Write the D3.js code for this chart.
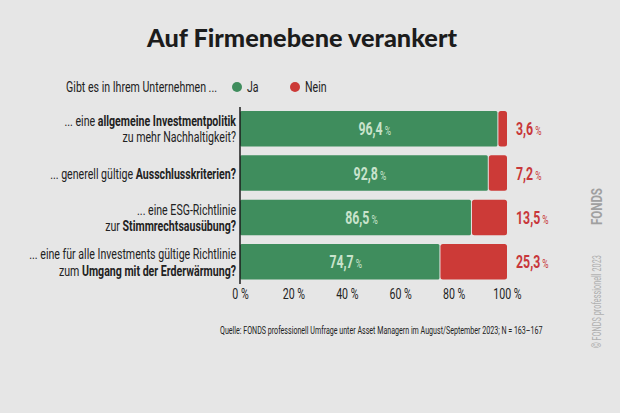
<!DOCTYPE html>
<html><head><meta charset="utf-8">
<script src="https://cdn.jsdelivr.net/npm/d3@7"></script>
<style>
html,body{margin:0;padding:0;background:#e6e6e6;}
svg{display:block;}
</style></head>
<body>
<svg id="chart" width="620" height="413"></svg>
<script>
const title = "Auf Firmenebene verankert";
const legendIntro = "Gibt es in Ihrem Unternehmen ...";
const seriesNames = ["Ja", "Nein"];
const questionLines = [
  ["... eine **allgemeine Investmentpolitik**", "zu mehr Nachhaltigkeit?"],
  ["... generell gültige **Ausschlusskriterien?**"],
  ["... eine ESG-Richtlinie", "zur **Stimmrechtsausübung?**"],
  ["... eine für alle Investments gültige Richtlinie", "zum **Umgang mit der Erderwärmung?**"]
];
const jaValues = [96.4, 92.8, 86.5, 74.7];
const neinValues = [3.6, 7.2, 13.5, 25.3];
const tickValues = [0, 20, 40, 60, 80, 100];
const sourceText = "Quelle: FONDS professionell Umfrage unter Asset Managern im August/September 2023; N = 163–167";
const copyrightText = "© FONDS professionell 2023";
const logoText = "FONDS";

const GREEN = "#3f8d5d", RED = "#cc3a37", DARK = "#222222", LIGHT = "#c9e3cc", RED_TXT = "#c8373a";
const NARROW = "Roboto, 'Liberation Sans', sans-serif";
const FS = 15.5;

const svg = d3.select("#chart");
svg.append("rect").attr("width", 620).attr("height", 413).attr("fill", "#e6e6e6");

// calibrate a horizontal condensing factor so the font imitates the condensed original
const calib = svg.append("text").attr("font-family", NARROW).attr("font-size", FS)
  .text("... eine für alle Investments gültige Richtlinie");
const K = 207 / calib.node().getComputedTextLength();
calib.remove();

const fmt = v => d3.format(".1f")(v).replace(".", ",");
const x = d3.scaleLinear().domain([0, 100]).range([240, 507]);
const y = d3.scaleBand().domain(d3.range(questionLines.length)).range([102, 288.5]).paddingInner(0.2).paddingOuter(0.2);

function condText(parent, tx, ty, anchor, k) {
  return parent.append("text")
    .attr("transform", `translate(${tx},${ty}) scale(${k},1)`)
    .attr("text-anchor", anchor)
    .attr("font-family", NARROW);
}
function addRich(textSel, str, size, color) {
  str.split("**").forEach((seg, i) => {
    if (!seg) return;
    textSel.append("tspan").text(seg)
      .attr("font-weight", i % 2 ? "bold" : "normal")
      .attr("font-size", size).attr("fill", color);
  });
}

// Title
svg.append("text").attr("x", 302).attr("y", 47).attr("text-anchor", "middle")
  .attr("font-family", "Lato, 'Open Sans', sans-serif").attr("font-weight", 900)
  .attr("font-size", 24).attr("fill", "#1c1c1c")
  .attr("textLength", 310).attr("lengthAdjust", "spacingAndGlyphs")
  .text(title);

// Legend
const lg = svg.append("g");
condText(lg, 217, 92, "end", K).attr("font-size", FS).attr("fill", DARK).text(legendIntro);
const legendX = [237, 295];
seriesNames.forEach((n, i) => {
  lg.append("circle").attr("cx", legendX[i]).attr("cy", 87).attr("r", 5)
    .attr("fill", i ? RED : GREEN);
  condText(lg, legendX[i] + 10, 92, "start", K).attr("font-size", FS).attr("fill", DARK).text(n);
});

// Bars
const rows = d3.range(questionLines.length);
const barG = svg.append("g");
barG.selectAll("rect.ja").data(rows).join("rect").attr("class", "ja")
  .attr("x", x(0)).attr("y", i => y(i)).attr("height", y.bandwidth())
  .attr("width", i => x(jaValues[i]) - x(0)).attr("rx", 1.5)
  .attr("fill", GREEN);
barG.selectAll("rect.nein").data(rows).join("rect").attr("class", "nein")
  .attr("x", i => x(jaValues[i]) + 1).attr("y", i => y(i)).attr("height", y.bandwidth())
  .attr("width", i => x(jaValues[i] + neinValues[i]) - x(jaValues[i]) - 1).attr("rx", 2.5)
  .attr("fill", RED);

// Value labels
rows.forEach(i => {
  const cy = y(i) + y.bandwidth() / 2 + 6.5;
  const t1 = condText(barG, (x(0) + x(jaValues[i])) / 2 + 6, cy, "middle", K);
  t1.append("tspan").attr("font-weight", "bold").attr("font-size", 18).attr("fill", LIGHT).text(fmt(jaValues[i]));
  t1.append("tspan").attr("font-size", 12.5).attr("fill", LIGHT).attr("dx", 3).text("%");
  const t2 = condText(barG, x(100) + 9, cy, "start", K);
  t2.append("tspan").attr("font-weight", "bold").attr("font-size", 18).attr("fill", RED_TXT).text(fmt(neinValues[i]));
  t2.append("tspan").attr("font-size", 12.5).attr("fill", RED_TXT).attr("dx", 3).text("%");
});

// Category labels
rows.forEach(i => {
  const lines = questionLines[i];
  const c = y(i) + y.bandwidth() / 2;
  lines.forEach((ln, j) => {
    const by = c + 5.5 + (j - (lines.length - 1) / 2) * 16.5;
    const t = condText(svg, 236, by, "end", K);
    addRich(t, ln, FS, DARK);
  });
});

// Axis line
svg.append("line").attr("x1", x(0)).attr("x2", x(0)).attr("y1", 107).attr("y2", 284)
  .attr("stroke", "#1c1c1c").attr("stroke-width", 1.5);

// X axis tick labels
const axis = d3.axisBottom(x).tickValues(tickValues).tickSize(0).tickFormat(d => d + " %");
const ax = svg.append("g").attr("transform", "translate(0,287)").call(axis);
ax.select(".domain").remove();
ax.selectAll("text").attr("font-family", NARROW).attr("font-size", FS).attr("fill", DARK)
  .attr("dy", 0).attr("y", 0).attr("transform", `translate(0,11.5) scale(${K},1)`);

// Source
const src = svg.append("text").attr("font-family", NARROW).attr("font-size", 11.5)
  .attr("fill", DARK).text(sourceText);
const ks = 323 / src.node().getComputedTextLength();
src.attr("transform", `translate(220,334) scale(${ks},1)`);

// Copyright vertical
const cp = svg.append("text").attr("font-family", NARROW).attr("font-size", 13).attr("fill", "#b0b0b0").text(copyrightText);
const kc = 93 / cp.node().getComputedTextLength();
cp.attr("transform", `translate(601,348) rotate(-90) scale(${kc},1)`);
const lo = svg.append("text").attr("font-family", NARROW).attr("font-size", 15).attr("font-weight", "bold").attr("fill", "#a0a0a0").text(logoText);
const kl = 37 / lo.node().getComputedTextLength();
lo.attr("transform", `translate(602,225) rotate(-90) scale(${kl},1)`);
</script>
</body></html>
